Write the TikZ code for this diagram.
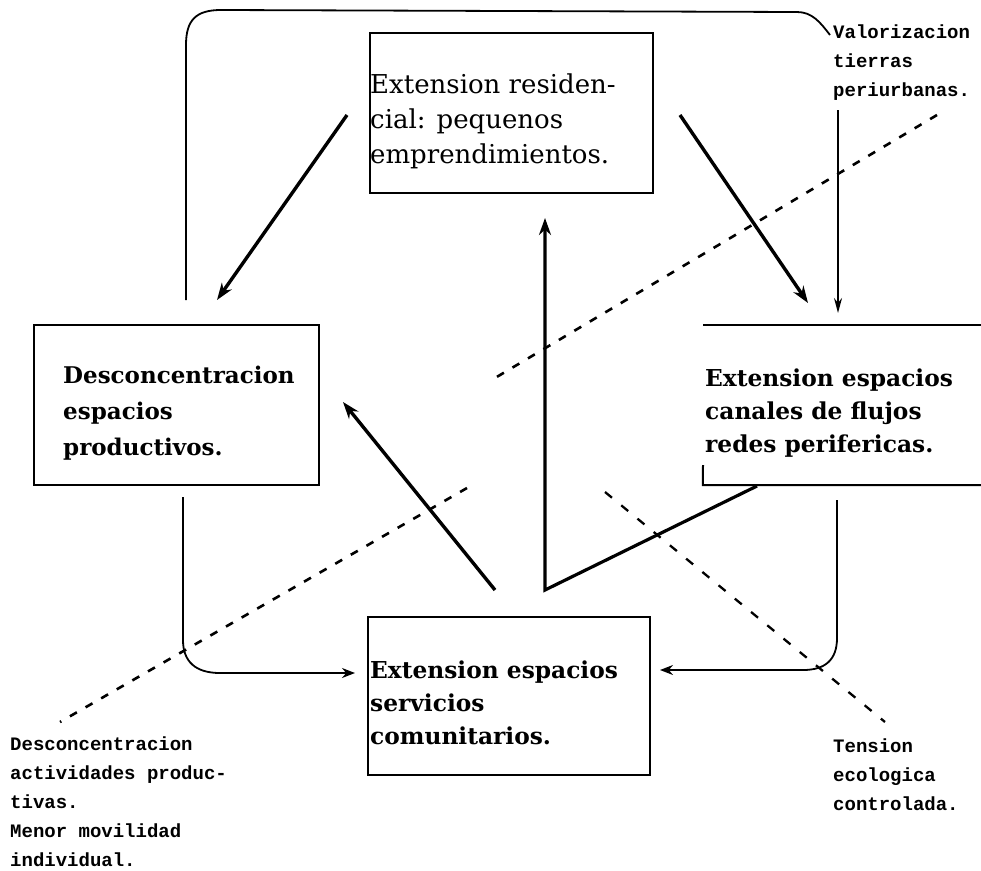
\documentclass[tikz,border=0pt]{standalone}
\usepackage{fontspec}
\usetikzlibrary{arrows.meta}
\newfontfamily\boxfont{DejaVu Serif}
\newfontfamily\labfont{Liberation Mono}
\begin{document}
\begin{tikzpicture}[x=1pt,y=-1pt,
  boxstyle/.style={draw, line width=2pt, rectangle, inner sep=0pt},
  boxline/.style={line width=2pt},
  btxt/.style={inner sep=0pt, anchor=base west, align=left, font=\boxfont\bfseries\fontsize{23.3}{33}\selectfont},
  ltxt/.style={inner sep=0pt, anchor=base west, align=left, font=\labfont\bfseries\fontsize{19}{29}\selectfont},
  thickarrow/.style={line width=3.4pt, -{Stealth[length=17pt,width=12pt]}},
  thinarrow/.style={line width=1.8pt, -{Stealth[length=13pt,width=10pt]}},
  loopline/.style={line width=1.8pt},
  dashline/.style={line width=2.6pt, dash pattern=on 8pt off 10pt}
]
\useasboundingbox[fill=white] (0,0) rectangle (981,870);

% boxes
\node[boxstyle, minimum width=283pt, minimum height=160pt] (res) at (511.5,113) {};
\node[boxstyle, minimum width=285pt, minimum height=160pt] (prod) at (176.5,405) {};
\node[boxstyle, minimum width=282pt, minimum height=158pt] (serv) at (509,696) {};
\node[inner sep=0pt, minimum width=300pt, minimum height=160pt] (flux) at (853,405) {};
\draw[boxline] (flux.north east) -- (flux.north west);
\draw[boxline] (703,465) -- (flux.south west) -- (flux.south east);

% box texts (anchor = baseline of last line)
\node[btxt, font=\boxfont\fontsize{26}{35}\selectfont] (restxt) at (370,163) {Extension residen-\\cial: pequenos\\emprendimientos.};
\node[btxt, font=\boxfont\bfseries\fontsize{23}{36}\selectfont] (prodtxt) at (63,455) {Desconcentracion\\espacios\\productivos.};
\node[btxt] (fluxtxt) at (705,452) {Extension espacios\\canales de flujos\\redes perifericas.};
\node[btxt] (servtxt) at (370,744) {Extension espacios\\servicios\\comunitarios.};

% small labels
\node[ltxt] (valtxt) at (833,96) {Valorizacion\\tierras\\periurbanas.};
\node[ltxt] (destxt) at (10,866) {Desconcentracion\\actividades produc-\\tivas.\\Menor movilidad\\individual.};
\node[ltxt] (tentxt) at (833,810) {Tension\\ecologica\\controlada.};

% coordinates
\coordinate (a1s) at (347,115);
\coordinate (a1e) at (217,300);
\coordinate (a2s) at (680,115);
\coordinate (a2e) at (808,303);
\coordinate (a3s) at (495,590);
\coordinate (a3e) at (343,402);
\coordinate (a4s) at (757,486);
\coordinate (a4j) at (545,590);
\coordinate (a4e) at (545,218);
\coordinate (vs) at (838,110);
\coordinate (ve) at (838,313);

% main arrows
\draw[thickarrow] (a1s) -- (a1e);
\draw[thickarrow] (a2s) -- (a2e);
\draw[thickarrow] (a3s) -- (a3e);
\draw[thickarrow, line width=3.2pt] (a4s) -- (a4j) -- (a4e);
\draw[line width=1.8pt, -{Stealth[length=15pt,width=8pt]}] (vs) -- (ve);

% top loop
\coordinate (tl0) at (186,300);
\coordinate (tl1) at (830,35);
\draw[loopline] (tl0) -- (186,45) .. controls (186,20) and (196,10) .. (221,10)
  -- (797,12) .. controls (812,12) and (820,22) .. (tl1);

% left loop
\coordinate (ll0) at (183,497);
\coordinate (ll1) at (355,673);
\draw[thinarrow] (ll0) -- (183,640) .. controls (183,662) and (196,673) .. (220,673) -- (ll1);

% right loop
\coordinate (rl0) at (837,500);
\coordinate (rl1) at (660,670);
\draw[thinarrow] (rl0) -- (837,638) .. controls (837,660) and (825,670) .. (803,670) -- (rl1);

% dashed lines
\coordinate (d1a) at (937,115);
\coordinate (d1b) at (495,378);
\coordinate (d2a) at (467,488);
\coordinate (d2b) at (60,722);
\coordinate (d3a) at (605,492);
\coordinate (d3b) at (885,722);
\draw[dashline] (d1a) -- (d1b);
\draw[dashline] (d2a) -- (d2b);
\draw[dashline, line width=2.3pt, dash pattern=on 9pt off 12pt] (d3a) -- (d3b);
\end{tikzpicture}
\end{document}
